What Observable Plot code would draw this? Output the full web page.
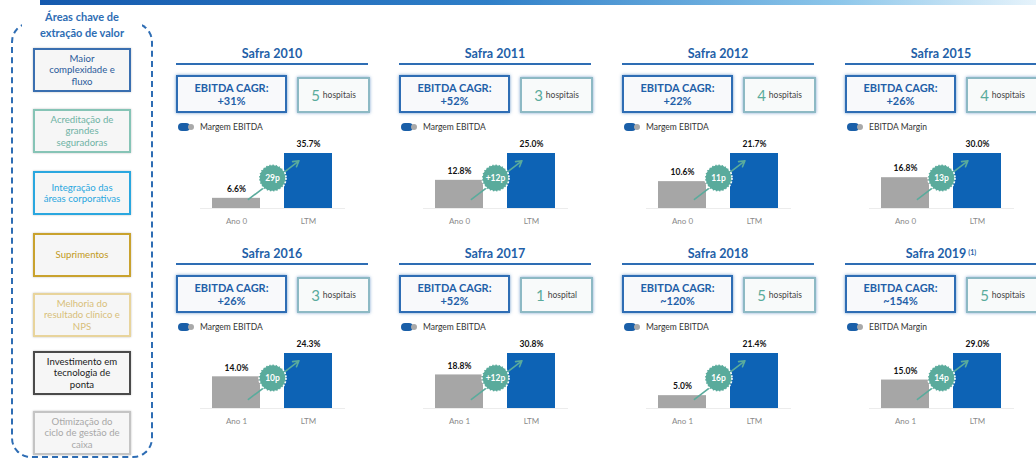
<!DOCTYPE html>
<html><head><meta charset="utf-8">
<script src="https://cdn.jsdelivr.net/npm/d3@7"></script>
<script src="https://cdn.jsdelivr.net/npm/@observablehq/plot@0.6"></script>
<style>
html,body{margin:0;padding:0}
body{width:1036px;height:462px;overflow:hidden;background:#fff;position:relative;font-family:Lato,"Open Sans",sans-serif}
.abs{position:absolute;box-sizing:border-box}
.topbar{left:40px;top:0;width:996px;height:5px;background:linear-gradient(to right,#1559ad 0%,#2f7fc8 45%,#8cc6ea 80%,#e6f3fb 100%)}
.frame{left:11px;top:22px;width:142px;height:436px;border:2px dashed #2e6db4;border-radius:20px}
.ftitle{left:22px;top:9px;width:120px;background:#fff;text-align:center;font-weight:700;font-size:11px;line-height:16px;color:#2e6db4}
.area{left:33px;width:98px;height:44px;border:2px solid;background:#f6f6f6;display:flex;align-items:center;justify-content:center;text-align:center;font-size:9.6px;line-height:11.5px;white-space:pre-line;box-shadow:0 0 2px rgba(0,0,0,.25)}
.ptitle{width:192px;text-align:center;font-weight:700;font-size:12.5px;color:#1f5fa8;line-height:14px}
.ptitle sup{font-size:7px;vertical-align:top;position:relative;top:-2px;margin-left:2px}
.uline{width:192px;height:2px;background:#2e6db4}
.ebox{width:111px;height:38px;border:2px solid #2e6db4;background:#f8f9fb;box-shadow:0 0 3px rgba(46,109,180,.7);text-align:center;font-weight:700;font-size:11px;line-height:13px;color:#1f5fa8;padding-top:4px}
.hbox{width:73px;height:36px;border:2px solid #8db9c4;background:#f8fafa;box-shadow:0 0 3px rgba(46,109,180,.6);display:flex;align-items:center;justify-content:center;white-space:nowrap}
.hbox .n{font-size:15px;color:#5aab9c;margin-right:3px}
.hbox .t{font-size:8.5px;color:#444}
.leg{font-size:8.5px;color:#333;display:flex;align-items:center;white-space:nowrap}
.leg .b{display:inline-block;width:12px;height:8px;border-radius:4px;background:#1a5fa8}
.leg .g{display:inline-block;width:6px;height:6px;border-radius:3px;background:#a9a9a9;margin-left:-2px;margin-right:6px}
</style></head><body>
<script>
// ---- data ----
const areas = [
  "Maior\ncomplexidade e\nfluxo",
  "Acreditação de\ngrandes\nseguradoras",
  "Integração das\náreas corporativas",
  "Suprimentos",
  "Melhoria do\nresultado clínico e\nNPS",
  "Investimento em\ntecnologia de\nponta",
  "Otimização do\nciclo de gestão de\ncaixa"
];
const safras = ["2010","2011","2012","2015","2016","2017","2018","2019"];
const notas = ["","","","","","","","(1)"];
const cagr = ["+31%","+52%","+22%","+26%","+26%","+52%","~120%","~154%"];
const hospitais = [5,3,4,4,3,1,5,5];
const legendas = ["Margem EBITDA","Margem EBITDA","Margem EBITDA","EBITDA Margin","Margem EBITDA","Margem EBITDA","Margem EBITDA","EBITDA Margin"];
const baseLabels = ["Ano 0","Ano 0","Ano 0","Ano 0","Ano 1","Ano 1","Ano 1","Ano 1"];
const ltmLabel = "LTM";
const ano0 = [6.6,12.8,10.6,16.8,14.0,18.8,5.0,15.0];
const ltm = [35.7,25.0,21.7,30.0,24.3,30.8,21.4,29.0];
const ganhos = ["29p","+12p","11p","13p","10p","+12p","16p","14p"];

// ---- styles ----
const areaStyles = [
  {border:"#3a6fb0", color:"#2a5a9a"},
  {border:"#86c4b6", color:"#6fb3a5"},
  {border:"#2aa7df", color:"#2aa7df"},
  {border:"#c9a22e", color:"#c29a22"},
  {border:"#e8d49c", color:"#d8bf7a"},
  {border:"#4a4a4a", color:"#222"},
  {border:"#c4c4c4", color:"#a8a8a8"}
];
const areaTops = [48,109,171,233,293,351,411];
const BLUE = "#0d63b5", GRAY = "#a6a6a6", TEAL = "#5aab9c";

function el(cls, css, html){
  const d = document.createElement("div");
  d.className = "abs " + cls;
  Object.assign(d.style, css);
  if (html !== undefined) d.innerHTML = html;
  document.body.appendChild(d);
  return d;
}

el("topbar", {});
el("frame", {});
el("ftitle", {}, "Áreas chave de<br>extração de valor");
areas.forEach((a, i) => {
  const d = el("area", {top: areaTops[i] + "px", borderColor: areaStyles[i].border, color: areaStyles[i].color});
  d.textContent = a;
});

function mini(i){
  const data = [
    {cat: baseLabels[i], v: ano0[i], s: "base"},
    {cat: ltmLabel, v: ltm[i], s: "ltm"}
  ];
  return Plot.plot({
    width: 200, height: 100,
    marginTop: 0, marginRight: 0, marginLeft: 0, marginBottom: 27,
    x: {domain: [baseLabels[i], ltmLabel], range: [12, 180], padding: 1/3},
    y: {domain: [0, ltm[i]], range: [73, 18], axis: null},
    color: {domain: ["base","ltm"], range: [GRAY, BLUE]},
    style: {fontFamily: "Lato, sans-serif", fontSize: "8px", background: "transparent", overflow: "visible"},
    marks: [
      Plot.ruleY([0], {stroke: "#ececec", insetLeft: 24, insetRight: 31}),
      Plot.barY(data, {x: "cat", y: "v", fill: "s"}),
      Plot.text(data, {x: "cat", y: "v", text: d => d.v.toFixed(1) + "%", dy: -9, fontWeight: "bold", fill: "#111", fontSize: 8.5}),
      Plot.arrow([{a: baseLabels[i], b: ltmLabel, y0: 0, y1: ltm[i]}], {
        x1: "a", y1: "y0", x2: "b", y2: "y1", stroke: TEAL, strokeWidth: 1.6,
        insetStart: 15, insetEnd: 12, headLength: 6
      }),
      Plot.dot([{cat: ltmLabel, m: ltm[i] / 2}], {x: "cat", y: "m", dx: -36, dy: -3, r: 13.5, fill: TEAL, stroke: "#fff", strokeWidth: 1.6, strokeDasharray: "2,1.4"}),
      Plot.text([{cat: ltmLabel, m: ltm[i] / 2, t: ganhos[i]}], {x: "cat", y: "m", text: "t", dx: -36, dy: -3, fill: "#fff", fontWeight: "bold", fontSize: 8.5}),
      Plot.axisX({tickSize: 0, tickPadding: 10, color: "#8a8a8a", fontSize: 8, label: null})
    ]
  });
}

safras.forEach((s, i) => {
  const c = i % 4, r = Math.floor(i / 4);
  const x0 = 176 + 223 * c, y0 = 200 * r;
  el("ptitle", {left: x0 + "px", top: (y0 + 47) + "px"}, "Safra " + s + (notas[i] ? "<sup>" + notas[i] + "</sup>" : ""));
  el("uline", {left: x0 + "px", top: (y0 + 63) + "px"});
  el("ebox", {left: x0 + "px", top: (y0 + 75) + "px"}, "EBITDA CAGR:<br>" + cagr[i]);
  el("hbox", {left: (x0 + 121) + "px", top: (y0 + 77) + "px"},
     '<span class="n">' + hospitais[i] + '</span><span class="t">' + (hospitais[i] === 1 ? "hospital" : "hospitais") + '</span>');
  el("leg", {left: (x0 + 2) + "px", top: (y0 + 122) + "px"}, '<span class="b"></span><span class="g"></span>' + legendas[i]);
  const holder = el("", {left: x0 + "px", top: (y0 + 135) + "px", width: "200px", height: "100px"});
  holder.appendChild(mini(i));
});
</script>
</body></html>
